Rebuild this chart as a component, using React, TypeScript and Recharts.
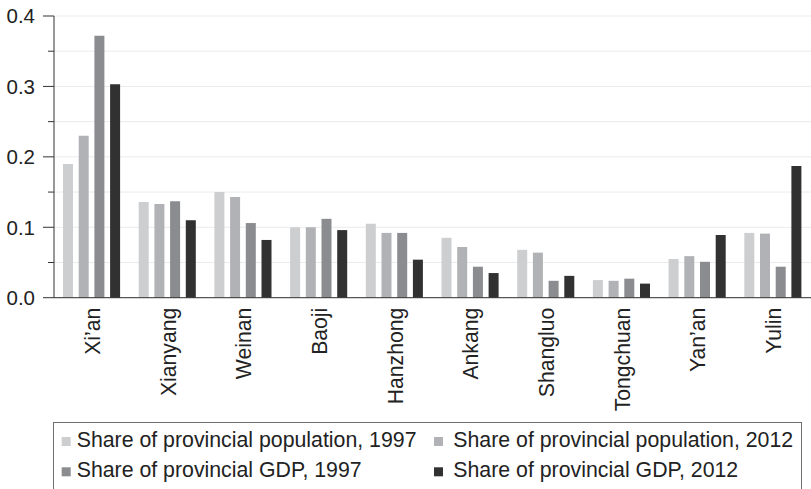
import React from "react";
import {
  BarChart,
  Bar,
  XAxis,
  YAxis,
  CartesianGrid,
  Legend,
} from "recharts";

// Prefecture-level cities of Shaanxi province
const cities = [
  "Xi’an",
  "Xianyang",
  "Weinan",
  "Baoji",
  "Hanzhong",
  "Ankang",
  "Shangluo",
  "Tongchuan",
  "Yan’an",
  "Yulin",
];

const popShare1997 = [0.19, 0.136, 0.15, 0.1, 0.105, 0.085, 0.068, 0.025, 0.055, 0.092];
const popShare2012 = [0.23, 0.133, 0.143, 0.1, 0.092, 0.072, 0.064, 0.024, 0.059, 0.091];
const gdpShare1997 = [0.372, 0.137, 0.106, 0.112, 0.092, 0.044, 0.024, 0.027, 0.051, 0.044];
const gdpShare2012 = [0.303, 0.11, 0.082, 0.096, 0.054, 0.035, 0.031, 0.02, 0.089, 0.187];

const yTicks = [0, 0.05, 0.1, 0.15, 0.2, 0.25, 0.3, 0.35, 0.4];

const seriesNames = [
  "Share of provincial population, 1997",
  "Share of provincial population, 2012",
  "Share of provincial GDP, 1997",
  "Share of provincial GDP, 2012",
];

const colors = ["#cdced0", "#b1b2b5", "#8b8c90", "#313131"];

const data = cities.map((city, i) => ({
  city,
  pop1997: popShare1997[i],
  pop2012: popShare2012[i],
  gdp1997: gdpShare1997[i],
  gdp2012: gdpShare2012[i],
}));

const FONT = "'Liberation Sans', Arial, Helvetica, sans-serif";
const TEXT = "#222";
const AXIS = "#333";

const YTick = (props: any) => {
  const { x, y, payload } = props;
  const v: number = payload.value;
  const major = Math.abs(v * 10 - Math.round(v * 10)) < 1e-6;
  return (
    <g>
      <line x1={x - (major ? 11 : 6)} x2={x} y1={y} y2={y} stroke={AXIS} strokeWidth={1} />
      {major && (
        <text
          x={x - 19}
          y={y}
          dy="0.36em"
          textAnchor="end"
          fontFamily={FONT}
          fontSize={20.5}
          fill={TEXT}
        >
          {v.toFixed(1)}
        </text>
      )}
    </g>
  );
};

const XTick = (props: any) => {
  const { x, y, payload } = props;
  return (
    <text
      transform={`translate(${x + 8}, ${y + 10}) rotate(-90)`}
      textAnchor="end"
      fontFamily={FONT}
      fontSize={21.2}
      fill={TEXT}
    >
      {payload.value}
    </text>
  );
};

const LegendBox = () => {
  const cols = [8.7, 381];
  const textCols = [23.7, 400.3];
  const rows = [15, 45.3];
  const baselines = [25, 55];
  return (
    <svg width={750} height={68} style={{ display: "block" }}>
      <rect x={0.5} y={0.5} width={748} height={90} fill="none" stroke="#6f6f6f" strokeWidth={1} />
      {seriesNames.map((name, i) => {
        const c = i % 2;
        const r = Math.floor(i / 2);
        return (
          <g key={name}>
            <rect x={cols[c]} y={rows[r]} width={9} height={9} fill={colors[i]} />
            <text x={textCols[c]} y={baselines[r]} fontFamily={FONT} fontSize={21.3} fill={TEXT}>
              {name}
            </text>
          </g>
        );
      })}
    </svg>
  );
};

export default function App() {
  return (
    <div style={{ position: "absolute", left: 0, top: 0, background: "#fff" }}>
      <BarChart
        width={811}
        height={489}
        data={data}
        margin={{ top: 16, right: 0, left: 0, bottom: 0 }}
        barSize={10}
        barGap={5.7}
      >
        <CartesianGrid vertical={false} stroke="#ebebeb" strokeWidth={1} />
        <XAxis
          dataKey="city"
          interval={0}
          tickLine={false}
          tickSize={0}
          tickMargin={0}
          height={123.3}
          stroke={AXIS}
          tick={<XTick />}
        />
        <YAxis
          domain={[0, 0.4]}
          ticks={yTicks}
          interval={0}
          width={54}
          tickLine={false}
          tickSize={0}
          tickMargin={0}
          stroke={AXIS}
          tick={<YTick />}
        />
        <Legend
          verticalAlign="bottom"
          content={<LegendBox />}
          wrapperStyle={{ position: "absolute", left: 53, top: 422, width: 750, height: 68 }}
        />
        <Bar dataKey="pop1997" name={seriesNames[0]} fill={colors[0]} isAnimationActive={false} />
        <Bar dataKey="pop2012" name={seriesNames[1]} fill={colors[1]} isAnimationActive={false} />
        <Bar dataKey="gdp1997" name={seriesNames[2]} fill={colors[2]} isAnimationActive={false} />
        <Bar dataKey="gdp2012" name={seriesNames[3]} fill={colors[3]} isAnimationActive={false} />
      </BarChart>
    </div>
  );
}
